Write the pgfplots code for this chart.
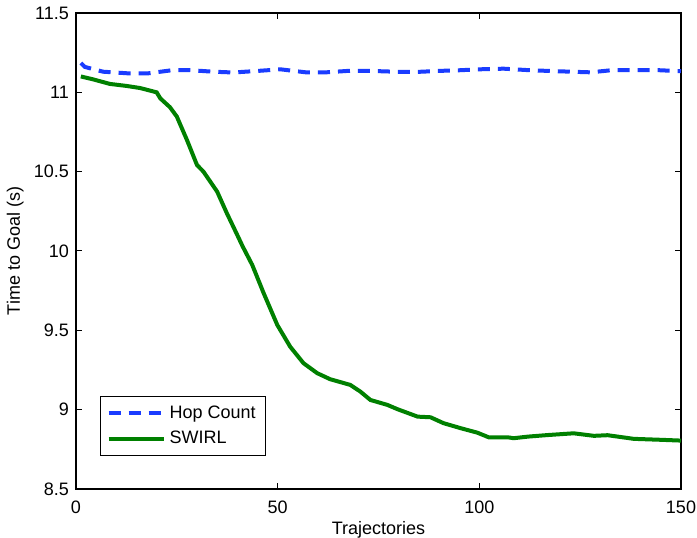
\documentclass[border=0pt]{standalone}
\usepackage{fontspec}
\setmainfont{Liberation Sans}
\usepackage{pgfplots}
\pgfplotsset{compat=1.18}
\definecolor{hopblue}{RGB}{26,60,255}
\definecolor{swirlgreen}{RGB}{0,128,0}
\begin{document}
\begin{tikzpicture}
\begin{axis}[
  scale only axis,
  width=302.5pt, height=238pt,
  xmin=0, xmax=150, ymin=8.5, ymax=11.5,
  xtick={0,50,100,150},
  ytick={8.5,9,9.5,10,10.5,11,11.5},
  /pgf/number format/assume math mode=true,
  tick align=inside,
  major tick length=3pt,
  tick style={black, line width=0.5pt},
  axis line style={black, line width=0.6pt},
  font=\fontsize{9}{11}\selectfont,
  xticklabel style={yshift=-2.2pt},
  xlabel={Trajectories},
  ylabel={Time to Goal (s)},
  xlabel style={at={(axis description cs:0.5,0)}, anchor=base, yshift=-23pt},
  ylabel style={at={(axis description cs:0,0.5)}, anchor=base, yshift=28pt},
  legend cell align=left,
  legend image code/.code={\draw[#1] (0pt,0pt) -- (27.5pt,0pt);},
  legend style={at={(rel axis cs:0.0397,0.069)}, anchor=south west,
    draw=black, line width=0.5pt, inner xsep=3pt, inner ysep=2.5pt,
    font=\fontsize{9}{11}\selectfont, row sep=1pt},
]
\addplot[hopblue, line width=2pt, dash pattern=on 6pt off 4pt] coordinates {
  (1.2,11.185) (2.2,11.16) (6.7,11.13) (12.7,11.12) (18,11.12)
  (24,11.14) (28,11.14) (34,11.13) (39,11.125) (45.7,11.136)
  (50.7,11.145) (57,11.126) (62,11.126) (68,11.136) (73,11.135)
  (79,11.13) (84,11.128) (90,11.135) (95,11.139) (100,11.145)
  (106,11.149) (112,11.14) (117,11.135) (122.7,11.13) (127.6,11.126)
  (133,11.14) (139,11.14) (144,11.14) (150,11.133)
};
\addlegendentry{Hop Count}
\addplot[swirlgreen, line width=2pt] coordinates {
  (1.2,11.10) (4.2,11.082) (8.4,11.053) (12.6,11.04) (15.9,11.027)
  (20,11.0) (20.9,10.962) (23.3,10.906) (25,10.847) (27.5,10.70)
  (30,10.542) (31.6,10.50) (35,10.374) (37.4,10.238) (40,10.10)
  (41.3,10.03) (43.7,9.912) (46.5,9.736) (49.9,9.534) (53.1,9.397)
  (56.4,9.293) (59.8,9.23) (63,9.192) (68,9.156) (70.5,9.114)
  (73,9.061) (77.2,9.03) (79.7,9.003) (84.7,8.956) (87.9,8.952)
  (91.1,8.915) (95.4,8.883) (99.5,8.855) (102.3,8.826) (107,8.826)
  (108.5,8.82) (112,8.83) (117,8.84) (123.4,8.851) (128.4,8.835)
  (131.8,8.839) (138.3,8.816) (145,8.81) (150,8.805)
};
\addlegendentry{SWIRL}
\coordinate (bl) at (rel axis cs:0,0);
\coordinate (tr) at (rel axis cs:1,1);
\end{axis}
\pgfresetboundingbox
\path ([xshift=-38pt,yshift=-24.5pt]bl) rectangle ([xshift=8pt,yshift=6.5pt]tr);
\end{tikzpicture}
\end{document}
